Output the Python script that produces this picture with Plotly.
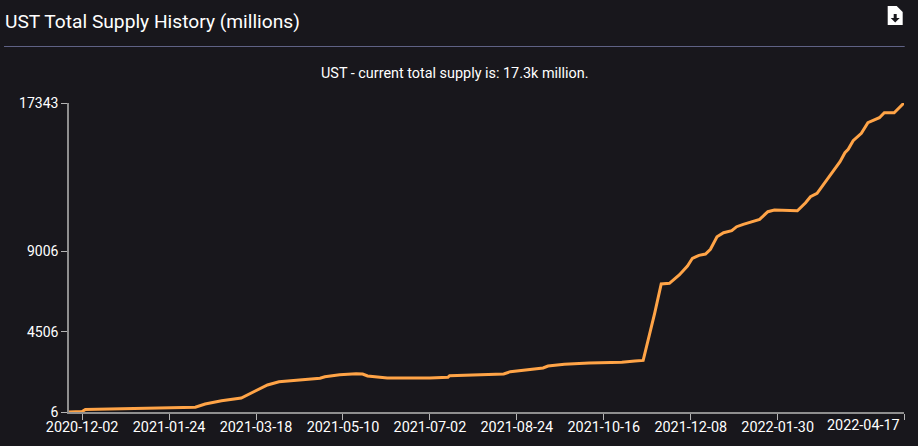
import plotly.graph_objects as go

# Colores usados en toda la figura.
BG_COLOR = "#18171C"
LINE_COLOR = "#FFA447"
AXIS_COLOR = "#8F8F8F"

WIDTH = 918
HEIGHT = 446

dates = [
    "2020-11-24", "2020-12-02", "2020-12-04", "2020-12-19", "2020-12-28",
    "2021-01-17", "2021-01-25", "2021-02-09", "2021-02-15", "2021-02-25",
    "2021-03-09", "2021-03-14", "2021-03-19", "2021-03-25", "2021-04-01",
    "2021-04-14", "2021-04-26", "2021-04-29", "2021-05-08", "2021-05-18",
    "2021-05-22", "2021-05-25", "2021-05-31", "2021-06-06", "2021-07-02",
    "2021-07-13", "2021-07-14", "2021-08-01", "2021-08-16", "2021-08-20",
    "2021-08-29", "2021-09-09", "2021-09-12", "2021-09-22", "2021-10-07",
    "2021-10-27", "2021-11-04", "2021-11-09", "2021-11-16", "2021-11-20",
    "2021-11-25", "2021-12-01", "2021-12-06", "2021-12-09", "2021-12-13",
    "2021-12-17", "2021-12-20", "2021-12-24", "2021-12-28", "2022-01-02",
    "2022-01-05", "2022-01-09", "2022-01-19", "2022-01-24", "2022-01-28",
    "2022-02-11", "2022-02-16", "2022-02-19", "2022-02-23", "2022-03-01",
    "2022-03-09", "2022-03-12", "2022-03-14", "2022-03-17", "2022-03-22",
    "2022-03-26", "2022-04-02", "2022-04-05", "2022-04-11", "2022-04-17",
]
supply = [
    6, 30, 146, 174, 202,
    214, 264, 270, 455, 640,
    791, 1016, 1280, 1521, 1706,
    1801, 1897, 1986, 2098, 2155,
    2138, 2026, 1970, 1913, 1913,
    1953, 2042, 2082, 2138, 2267,
    2379, 2474, 2587, 2682, 2755,
    2794, 2867, 2901, 5543, 7187,
    7226, 7692, 8197, 8629, 8797,
    8870, 9134, 9840, 10065, 10177,
    10402, 10536, 10817, 11243, 11338,
    11299, 11748, 12084, 12275, 13060,
    14048, 14553, 14744, 15226, 15641,
    16236, 16516, 16797, 16797, 17343,
]

x_ticks = [
    "2020-12-02", "2021-01-24", "2021-03-18", "2021-05-10", "2021-07-02",
    "2021-08-24", "2021-10-16", "2021-12-08", "2022-01-30", "2022-04-17",
]
y_ticks = [6, 4506, 9006, 17343]

TITLE = "UST Total Supply History (millions)"
SUBTITLE = "UST - current total supply is: 17.3k million."

# Margenes del area de trazado, en pixeles.
M_L = 69
M_R = 13.7
M_T = 103
M_B = 34


def px_x(x):
    return (x - M_L) / (WIDTH - M_L - M_R)


def px_y(y):
    return 1 - (y - M_T) / (HEIGHT - M_T - M_B)


def px_path(points):
    return "M " + " L ".join(f"{px_x(x):.5f},{px_y(y):.5f}" for x, y in points) + " Z"


fig = go.Figure()

fig.add_trace(
    go.Scatter(
        x=dates,
        y=supply,
        mode="lines",
        line=dict(color=LINE_COLOR, width=3),
        cliponaxis=False,
        hoverinfo="x+y",
    )
)

# La ultima etiqueta va aparte porque no esta centrada en su marca.
fig.update_xaxes(
    type="date",
    range=["2020-11-24", "2022-04-17"],
    tickmode="array",
    tickvals=x_ticks,
    ticktext=x_ticks[:-1] + [""],
    ticks="outside",
    ticklen=6,
    tickwidth=1,
    tickcolor="#B5B5B5",
    ticklabelstandoff=-5,
    showgrid=False,
    zeroline=False,
    showline=True,
    linecolor=AXIS_COLOR,
    linewidth=1.5,
    tickfont=dict(size=14.4, color="#FFFFFF"),
)

fig.update_yaxes(
    range=[y_ticks[0], y_ticks[-1]],
    tickmode="array",
    tickvals=y_ticks,
    ticktext=[str(v) for v in y_ticks],
    ticks="outside",
    ticklen=6,
    tickwidth=1,
    tickcolor="#B5B5B5",
    showgrid=False,
    zeroline=False,
    showline=True,
    linecolor=AXIS_COLOR,
    linewidth=1.5,
    tickfont=dict(size=14, color="#FFFFFF"),
)

shapes = [
    # Linea bajo el titulo.
    dict(
        type="line",
        xref="paper",
        yref="paper",
        x0=px_x(4),
        x1=px_x(905),
        y0=px_y(46.5),
        y1=px_y(46.5),
        line=dict(color="#5F6285", width=1),
    ),
    # Icono de descarga.
    dict(
        type="path",
        xref="paper",
        yref="paper",
        path=px_path([(888, 6), (897, 6), (903, 12), (903, 25), (888, 25)]),
        fillcolor="#FFFFFF",
        line=dict(width=0),
    ),
    dict(
        type="path",
        xref="paper",
        yref="paper",
        path=px_path([
            (894, 14), (897, 14), (897, 18), (900, 18),
            (895.5, 22.5), (891, 18), (894, 18),
        ]),
        fillcolor="#18171C",
        line=dict(width=0),
    ),
]

annotations = [
    dict(
        xref="paper",
        yref="paper",
        x=px_x(5),
        y=px_y(21),
        xanchor="left",
        yanchor="middle",
        text=TITLE,
        showarrow=False,
        borderpad=0,
        borderwidth=0,
        font=dict(size=19.2, color="#FFFFFF"),
    ),
    dict(
        xref="paper",
        yref="paper",
        x=px_x(454.5),
        y=px_y(73),
        xanchor="center",
        yanchor="middle",
        text=SUBTITLE,
        showarrow=False,
        borderpad=0,
        font=dict(size=14.4, color="#FFFFFF"),
    ),
    dict(
        xref="paper",
        yref="paper",
        x=px_x(901.5),
        y=px_y(425.5),
        xanchor="right",
        yanchor="middle",
        text=x_ticks[-1],
        showarrow=False,
        borderpad=0,
        font=dict(size=14.4, color="#FFFFFF"),
    ),
]

fig.update_layout(
    width=WIDTH,
    height=HEIGHT,
    showlegend=False,
    font_family="Roboto",
    paper_bgcolor=BG_COLOR,
    plot_bgcolor=BG_COLOR,
    margin=dict(l=M_L, r=M_R, t=M_T, b=M_B, pad=0, autoexpand=False),
    shapes=shapes,
    annotations=annotations,
)

fig.write_html(
    "out.html",
    config={"displayModeBar": False},
    post_script="document.body.style.margin='0';document.body.style.background='#18171C';",
)
